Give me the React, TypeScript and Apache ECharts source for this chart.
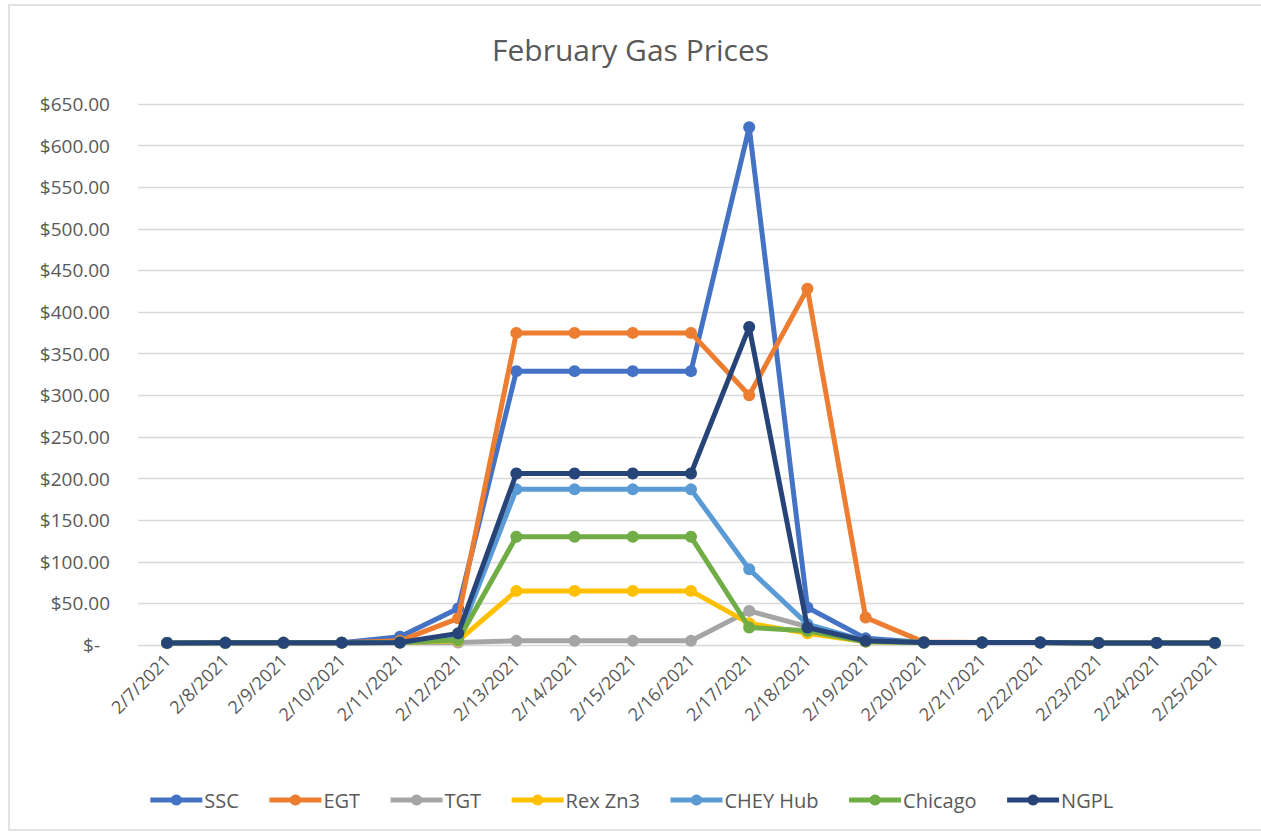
import React, { useEffect, useRef } from "react";
import * as echarts from "echarts";

const dates = [
  "2/7/2021", "2/8/2021", "2/9/2021", "2/10/2021", "2/11/2021", "2/12/2021", "2/13/2021",
  "2/14/2021", "2/15/2021", "2/16/2021", "2/17/2021", "2/18/2021", "2/19/2021", "2/20/2021",
  "2/21/2021", "2/22/2021", "2/23/2021", "2/24/2021", "2/25/2021",
];

const ssc = [2.5, 2.6, 2.6, 2.8, 10, 44, 329, 329, 329, 329, 622, 45, 8, 3, 3, 3, 2.5, 2.5, 2.5];
const egt = [2.5, 2.6, 2.6, 2.8, 5, 32, 375, 375, 375, 375, 300, 428, 33, 3.5, 3, 3, 2.5, 2.5, 2.5];
const tgt = [2.5, 2.6, 2.6, 2.8, 3, 3, 5, 5, 5, 5, 41, 22, 5, 3, 3, 3, 2.5, 2.5, 2.5];
const rexZn3 = [2.5, 2.6, 2.6, 2.8, 3, 5, 65, 65, 65, 65, 26, 14, 4, 3, 3, 3, 2.5, 2.5, 2.5];
const cheyHub = [2.5, 2.6, 2.6, 2.8, 3, 8, 187, 187, 187, 187, 91, 25, 5, 3, 3, 3, 2.5, 2.5, 2.5];
const chicago = [2.5, 2.6, 2.6, 2.8, 3, 6, 130, 130, 130, 130, 21, 17, 4, 3, 3, 3, 2.5, 2.5, 2.5];
const ngpl = [2.5, 2.6, 2.6, 2.8, 3, 14, 206, 206, 206, 206, 382, 21, 5, 3, 3, 3, 2.5, 2.5, 2.5];

const seriesNames = ["SSC", "EGT", "TGT", "Rex Zn3", "CHEY Hub", "Chicago", "NGPL"];
const seriesData = [ssc, egt, tgt, rexZn3, cheyHub, chicago, ngpl];
const colors = ["#4472C4", "#ED7D31", "#A5A5A5", "#FFC000", "#5B9BD5", "#70AD47", "#264478"];

const FONT = "'Open Sans', 'Noto Sans', sans-serif";

export default function App() {
  const ref = useRef<HTMLDivElement>(null);
  useEffect(() => {
    if (!ref.current) return;
    const chart = echarts.init(ref.current, undefined, { renderer: "svg" });
    chart.setOption({
      animation: false,
      backgroundColor: "#ffffff",
      title: {
        text: "February Gas Prices",
        left: "center",
        top: 29,
        textStyle: { fontFamily: FONT, fontSize: 30, fontWeight: "normal", color: "#595959" },
      },
      graphic: [
        {
          type: "rect",
          shape: { x: 9, y: 5, width: 1262, height: 825 },
          style: { fill: "none", stroke: "#D9D9D9", lineWidth: 1.5 },
          silent: true,
          z: -1,
        },
      ],
      legend: {
        bottom: 17,
        left: "center",
        itemWidth: 52,
        itemHeight: 14,
        itemGap: 28,
        lineStyle: { width: 5 },
        textStyle: { fontFamily: FONT, fontSize: 20, color: "#595959", padding: [0, 0, 0, -3] },
        data: seriesNames,
      },
      grid: { left: 138, right: 17, top: 104, bottom: 187, containLabel: false },
      xAxis: {
        type: "category",
        data: dates,
        boundaryGap: true,
        axisLine: { show: true, lineStyle: { color: "#D9D9D9", width: 1 } },
        axisTick: { show: false },
        axisLabel: {
          rotate: 45,
          interval: 0,
          margin: 12,
          fontFamily: FONT,
          fontSize: 18,
          color: "#595959",
        },
      },
      yAxis: {
        type: "value",
        min: 0,
        max: 650,
        interval: 50,
        axisLine: { show: false },
        axisTick: { show: false },
        splitLine: { lineStyle: { color: "#D9D9D9", width: 1.3 } },
        axisLabel: {
          margin: 28,
          fontFamily: FONT,
          fontSize: 19,
          color: "#595959",
          formatter: (v: number) => (v === 0 ? "{z|$-}" : "$" + v.toFixed(2)),
          rich: {
            z: { fontFamily: FONT, fontSize: 19, color: "#595959", padding: [0, 10, 0, 0] },
          },
        },
      },
      series: seriesNames.map((n, i) => ({
        name: n,
        type: "line",
        data: seriesData[i],
        symbol: "circle",
        symbolSize: 12,
        lineStyle: { color: colors[i], width: 5 },
        itemStyle: { color: colors[i] },
        z: 2 + i,
      })),
    });
    return () => chart.dispose();
  }, []);
  return (
    <div
      ref={ref}
      style={{ position: "fixed", left: 0, top: 0, width: 1261, height: 832, background: "#fff" }}
    />
  );
}
